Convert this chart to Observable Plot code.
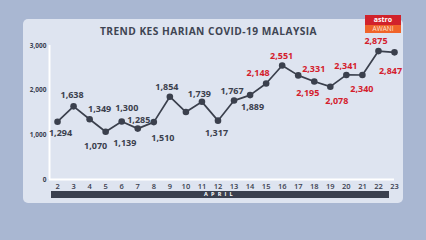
<!DOCTYPE html>
<html>
<head>
<meta charset="utf-8">
<script src="https://cdn.jsdelivr.net/npm/d3@7"></script>
<script src="https://cdn.jsdelivr.net/npm/@observablehq/plot@0.6"></script>
<style>
  html, body { margin: 0; padding: 0; }
  body { width: 426px; height: 240px; position: relative; overflow: hidden;
         background: #a9b7d2; font-family: "Open Sans", sans-serif; }
  #card { position: absolute; left: 23px; top: 19px; width: 380px; height: 184px;
          background: #dee4f0; border-radius: 5px; }
  #title { position: absolute; left: 0; width: 417px; top: 24px; text-align: center;
           font: 700 10.2px "Open Sans", sans-serif; color: #3f4553; letter-spacing: 0.45px; }
  #logo { position: absolute; left: 365px; top: 15px; width: 36px; }
  #logo .a { background: #d1222b; color: #fff; font: 700 7px "Open Sans", sans-serif; text-align: center; height: 10px; line-height: 10px; }
  #logo .b { background: #f0642a; color: #fde2d0; font: 400 6.5px "Open Sans", sans-serif; text-align: center; height: 8px; line-height: 8px; }
  #month { position: absolute; left: 51px; top: 191px; width: 338px; height: 7px; background: #3a404f;
           color: #fff; font: 700 5.5px "Open Sans", sans-serif; text-align: center; line-height: 7px; letter-spacing: 3.2px; }
  #chart { position: absolute; left: 0; top: 0; }
</style>
</head>
<body>
<div id="card"></div>
<div id="title">TREND KES HARIAN COVID-19 MALAYSIA</div>
<div id="logo"><div class="a">astro</div><div class="b">AWANI</div></div>
<div id="month">APRIL</div>
<div id="chart"></div>
<script>
const days = [2,3,4,5,6,7,8,9,10,11,12,13,14,15,16,17,18,19,20,21,22,23];
const cases = [1294,1638,1349,1070,1300,1139,1285,1854,1510,1739,1317,1767,1889,2148,2551,2331,2195,2078,2341,2340,2875,2847];
const yTicks = [0,1000,2000,3000];
const monthLabel = "APRIL";

// label placement (pixel offsets from each point) — layout only
const labelDx = [3,-1.5,10,-10,5,-13,-15,-3,-23,-2.5,-1.5,-2,2.5,-8,-0.5,15.5,-6.5,6.5,-0.5,-0.5,-2.5,-4];
const labelDy = [11.5,-11.5,-10.5,14,-13,14.5,-2,-9.5,26,-7.5,12,-9.5,12,-10,-9,-6,12,14.5,-8.5,14,-9.5,18.5];

const data = days.map((d, i) => ({day: d, value: cases[i], dx: labelDx[i], dy: labelDy[i], red: d >= 15}));
const xDomain = [1.5, 23];
const yDomain = [0, 3000];

const plot = Plot.plot({
  width: 426, height: 240,
  marginLeft: 49, marginRight: 32, marginTop: 45, marginBottom: 61,
  style: {background: "transparent", overflow: "visible"},
  x: {domain: xDomain, axis: null},
  y: {domain: yDomain, axis: null},
  marks: [
    Plot.ruleX([xDomain[0]], {stroke: "#ffffff", strokeWidth: 2}),
    Plot.ruleY([yDomain[0]], {x1: xDomain[0], x2: xDomain[1], stroke: "#ffffff", strokeWidth: 2}),
    Plot.text(yTicks, {x: xDomain[0], y: d => d, text: d => d3.format(",")(d), textAnchor: "end", dx: -3,
      fontSize: 6.5, fontWeight: 700, fill: "#3a404f", fontFamily: "Open Sans"}),
    Plot.text(days, {x: d => d, y: yDomain[0], text: d => String(d), dy: 7, fontSize: 7.5, fontWeight: 600,
      fill: "#3a404f", fontFamily: "Open Sans"}),
    Plot.line(data, {x: "day", y: "value", stroke: "#3b404d", strokeWidth: 1.7}),
    Plot.dot(data, {x: "day", y: "value", r: 3.3, fill: "#3b404d"}),
    ...data.map(d => Plot.text([d], {x: "day", y: "value", text: v => d3.format(",")(v.value),
      dx: d.dx, dy: d.dy, fontSize: 9, fontWeight: 700, fontFamily: "Open Sans",
      fill: d.red ? "#d41c2d" : "#3b404d"}))
  ]
});
document.getElementById("chart").appendChild(plot);
</script>
</body>
</html>
